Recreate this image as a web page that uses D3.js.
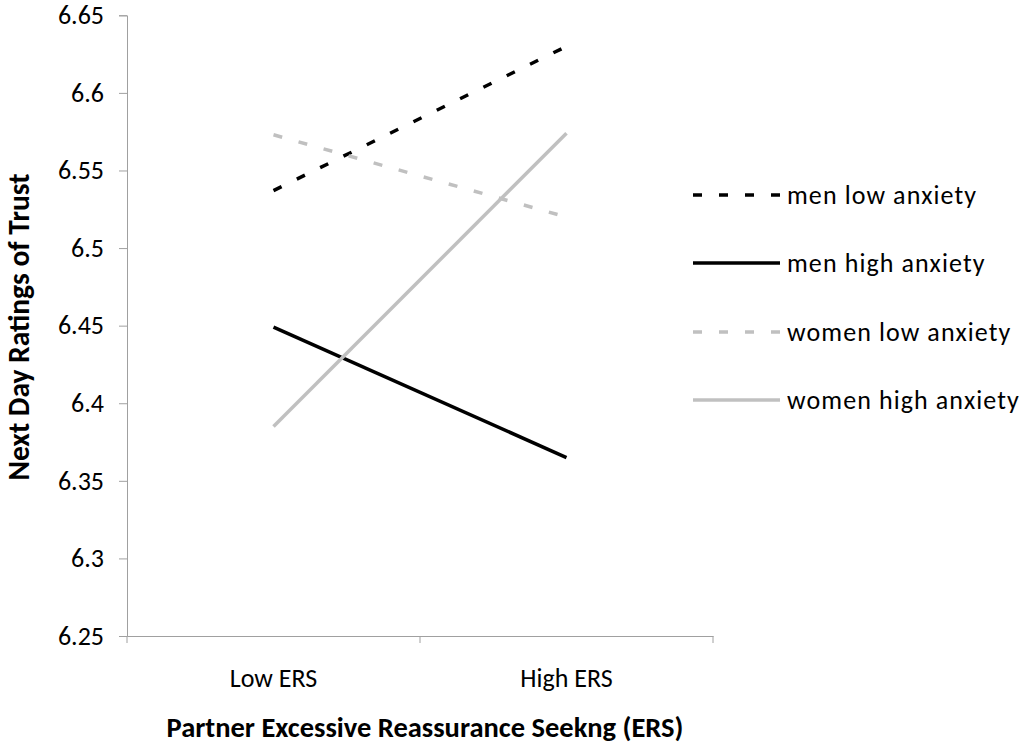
<!DOCTYPE html>
<html><head><meta charset="utf-8">
<script src="https://cdn.jsdelivr.net/npm/d3@7"></script>
<style>body{margin:0;background:#fff}svg{display:block}text{font-family:Carlito,Lato,"Liberation Sans",sans-serif;fill:#000}</style>
</head><body><svg id="c" width="1032" height="747"></svg>
<script>
const categories = ["Low ERS", "High ERS"];
const seriesNames = ["men low anxiety", "men high anxiety", "women low anxiety", "women high anxiety"];
const menLow = [6.537, 6.630];
const menHigh = [6.449, 6.365];
const womenLow = [6.573, 6.520];
const womenHigh = [6.385, 6.574];
const yTicks = [6.25, 6.3, 6.35, 6.4, 6.45, 6.5, 6.55, 6.6, 6.65];
const yTickLabels = ["6.25","6.3","6.35","6.4","6.45","6.5","6.55","6.6","6.65"];

const series = [
  {name: seriesNames[0], values: menLow, color: "#000000", dash: "9,17"},
  {name: seriesNames[1], values: menHigh, color: "#000000", dash: null},
  {name: seriesNames[2], values: womenLow, color: "#c0c0c0", dash: "9,17"},
  {name: seriesNames[3], values: womenHigh, color: "#c0c0c0", dash: null}
];

const svg = d3.select("#c");
const pLeft = 127, pRight = 713, pTop = 15.3, pBottom = 636;
const x = d3.scaleBand().domain(categories).range([pLeft, pRight]);
const y = d3.scaleLinear().domain([6.25, 6.65]).range([pBottom, pTop]);

// y axis
const ya = svg.append("g").attr("transform", `translate(${pLeft},0)`)
  .call(d3.axisLeft(y).tickValues(yTicks).tickFormat((d,i)=>yTickLabels[i]).tickSize(8).tickPadding(15));
ya.select(".domain").attr("stroke", "#a0a0a0").attr("stroke-width", 1);
ya.selectAll(".tick line").attr("stroke", "#a0a0a0");
ya.selectAll(".tick text").attr("font-size", 26).attr("font-family", "Carlito,Lato,sans-serif").attr("fill", "#000");

// x axis
const xa = svg.append("g").attr("transform", `translate(0,${pBottom})`)
  .call(d3.axisBottom(x).tickSize(0).tickPadding(33));
xa.select(".domain").attr("stroke", "#a0a0a0").attr("stroke-width", 1);
xa.selectAll(".tick text").attr("font-size", 26).attr("font-family", "Carlito,Lato,sans-serif").attr("fill", "#000");
// category boundary tick marks
const bounds = [pLeft, pLeft + x.step(), pRight];
svg.append("g").selectAll("line").data(bounds).join("line")
  .attr("x1", d=>d).attr("x2", d=>d).attr("y1", pBottom).attr("y2", pBottom+7)
  .attr("stroke", "#a0a0a0");

// lines
const line = d3.line().x((d,i)=>x(categories[i]) + x.bandwidth()/2).y(d=>y(d));
svg.append("g").selectAll("path").data(series).join("path")
  .attr("d", d=>line(d.values))
  .attr("fill", "none").attr("stroke", d=>d.color).attr("stroke-width", 3.5)
  .attr("stroke-dasharray", d=>d.dash);

// legend
const lg = svg.append("g");
const ly = [195, 263, 332, 400];
series.forEach((s,i)=>{
  lg.append("line").attr("x1", 693).attr("x2", 780).attr("y1", ly[i]).attr("y2", ly[i])
    .attr("stroke", s.color).attr("stroke-width", 3.5).attr("stroke-dasharray", s.dash);
  lg.append("text").attr("x", 787).attr("y", ly[i]).attr("dy", "0.35em")
    .attr("font-size", 26).attr("letter-spacing", "1.1px").text(s.name);
});

// axis titles
svg.append("text").attr("x", 425).attr("y", 737).attr("text-anchor","middle")
  .attr("font-size", 28.5).attr("font-weight","bold").text("Partner Excessive Reassurance Seekng (ERS)");
svg.append("text").attr("transform","translate(29,327) rotate(-90)").attr("text-anchor","middle")
  .attr("font-size", 29.5).attr("font-weight","bold").text("Next Day Ratings of Trust");
</script></body></html>
